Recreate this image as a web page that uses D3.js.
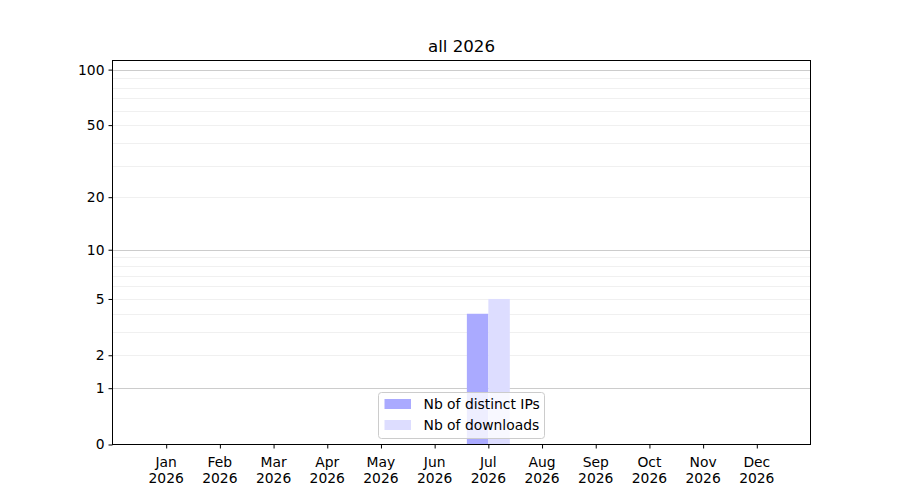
<!DOCTYPE html>
<html>
<head>
<meta charset="utf-8">
<script src="https://cdn.jsdelivr.net/npm/d3@7"></script>
<style>
  body { margin: 0; background: #fff; }
  svg { font-family: "DejaVu Sans", sans-serif; }
</style>
</head>
<body>
<svg id="chart" width="900" height="500"></svg>
<script>
// Data
const months = ["Jan", "Feb", "Mar", "Apr", "May", "Jun", "Jul", "Aug", "Sep", "Oct", "Nov", "Dec"];
const year = "2026";
const distinctIPs = [0, 0, 0, 0, 0, 0, 4, 0, 0, 0, 0, 0];
const downloads = [0, 0, 0, 0, 0, 0, 5, 0, 0, 0, 0, 0];
const yTicks = [0, 1, 2, 5, 10, 20, 50, 100];
const majorGrid = [1, 10, 100];
const minorGrid = [2, 3, 4, 5, 6, 7, 8, 9, 20, 30, 40, 50, 60, 70, 80, 90];
const seriesNames = ["Nb of distinct IPs", "Nb of downloads"];
const seriesColors = ["#aaaaff", "#ddddff"];

const svg = d3.select("svg#chart");
const fontSize = "13.89px";

// Plot area
const plotLeft = 112.5, plotRight = 810.5, plotTop = 60.5, plotBottom = 444.5;

// Scales
const x = d3.scaleLinear().domain([-1, 12]).range([plotLeft, plotRight]);
const y = d3.scaleSymlog().constant(1).domain([0, 112]).range([plotBottom, plotTop]);
const barW = x(0.4) - x(0);

// Grid
svg.append("g").selectAll("line")
  .data(minorGrid)
  .join("line")
    .attr("x1", plotLeft).attr("x2", plotRight)
    .attr("y1", d => Math.round(y(d)) + 0.5).attr("y2", d => Math.round(y(d)) + 0.5)
    .attr("stroke", "#ececec")
    .attr("stroke-width", 0.8);

svg.append("g").selectAll("line")
  .data(majorGrid)
  .join("line")
    .attr("x1", plotLeft).attr("x2", plotRight)
    .attr("y1", d => Math.round(y(d)) + 0.5).attr("y2", d => Math.round(y(d)) + 0.5)
    .attr("stroke", "#cccccc")
    .attr("stroke-width", 1);

// Bars
svg.append("g").selectAll("rect")
  .data(distinctIPs.map((v, i) => [i, v]).filter(d => d[1] > 0))
  .join("rect")
    .attr("x", d => x(d[0]) - barW)
    .attr("y", d => y(d[1]))
    .attr("width", barW)
    .attr("height", d => y(0) - y(d[1]))
    .attr("fill", seriesColors[0]);

svg.append("g").selectAll("rect")
  .data(downloads.map((v, i) => [i, v]).filter(d => d[1] > 0))
  .join("rect")
    .attr("x", d => x(d[0]))
    .attr("y", d => y(d[1]))
    .attr("width", barW)
    .attr("height", d => y(0) - y(d[1]))
    .attr("fill", seriesColors[1]);

// Frame
svg.append("rect")
  .attr("x", plotLeft).attr("y", plotTop)
  .attr("width", plotRight - plotLeft).attr("height", plotBottom - plotTop)
  .attr("fill", "none")
  .attr("stroke", "#000")
  .attr("stroke-width", 1);

// Y axis
const yAxis = svg.append("g")
  .attr("transform", `translate(${plotLeft},0)`)
  .call(d3.axisLeft(y).tickValues(yTicks).tickFormat(d3.format("d")).tickSizeOuter(0).tickSize(4).tickPadding(4));
yAxis.select(".domain").remove();
yAxis.selectAll("text").attr("font-size", fontSize).attr("fill", "#000").attr("font-family", "DejaVu Sans");

// X axis
const xAxis = svg.append("g")
  .attr("transform", `translate(0,${plotBottom})`)
  .call(d3.axisBottom(x).tickValues(d3.range(months.length)).tickFormat("").tickSizeOuter(0).tickSize(4));
xAxis.select(".domain").remove();

svg.append("g").selectAll("text")
  .data(months)
  .join("text")
    .attr("x", (d, i) => x(i))
    .attr("y", plotBottom + 22)
    .attr("text-anchor", "middle")
    .attr("font-size", fontSize)
    .selectAll("tspan")
    .data(d => [d, year])
    .join("tspan")
      .attr("x", function() { return d3.select(this.parentNode).attr("x"); })
      .attr("dy", (d, i) => i === 0 ? 0 : 16)
      .text(d => d);

// Title
svg.append("text")
  .attr("x", (plotLeft + plotRight) / 2)
  .attr("y", 52)
  .attr("text-anchor", "middle")
  .attr("font-size", "16.67px")
  .text("all " + year);

// Legend
const legend = svg.append("g").attr("transform", "translate(378.5,392.5)");
legend.append("rect")
  .attr("width", 166).attr("height", 46)
  .attr("rx", 3)
  .attr("fill", "#fff").attr("fill-opacity", 0.8)
  .attr("stroke", "#cccccc");

legend.selectAll("rect.handle")
  .data(seriesNames)
  .join("rect")
    .attr("class", "handle")
    .attr("x", 6)
    .attr("y", (d, i) => 6.5 + i * 21)
    .attr("width", 26.5)
    .attr("height", 10)
    .attr("fill", (d, i) => seriesColors[i]);

legend.selectAll("text")
  .data(seriesNames)
  .join("text")
    .attr("x", 45)
    .attr("y", (d, i) => 16.5 + i * 21)
    .attr("font-size", fontSize)
    .text(d => d);
</script>
</body>
</html>
